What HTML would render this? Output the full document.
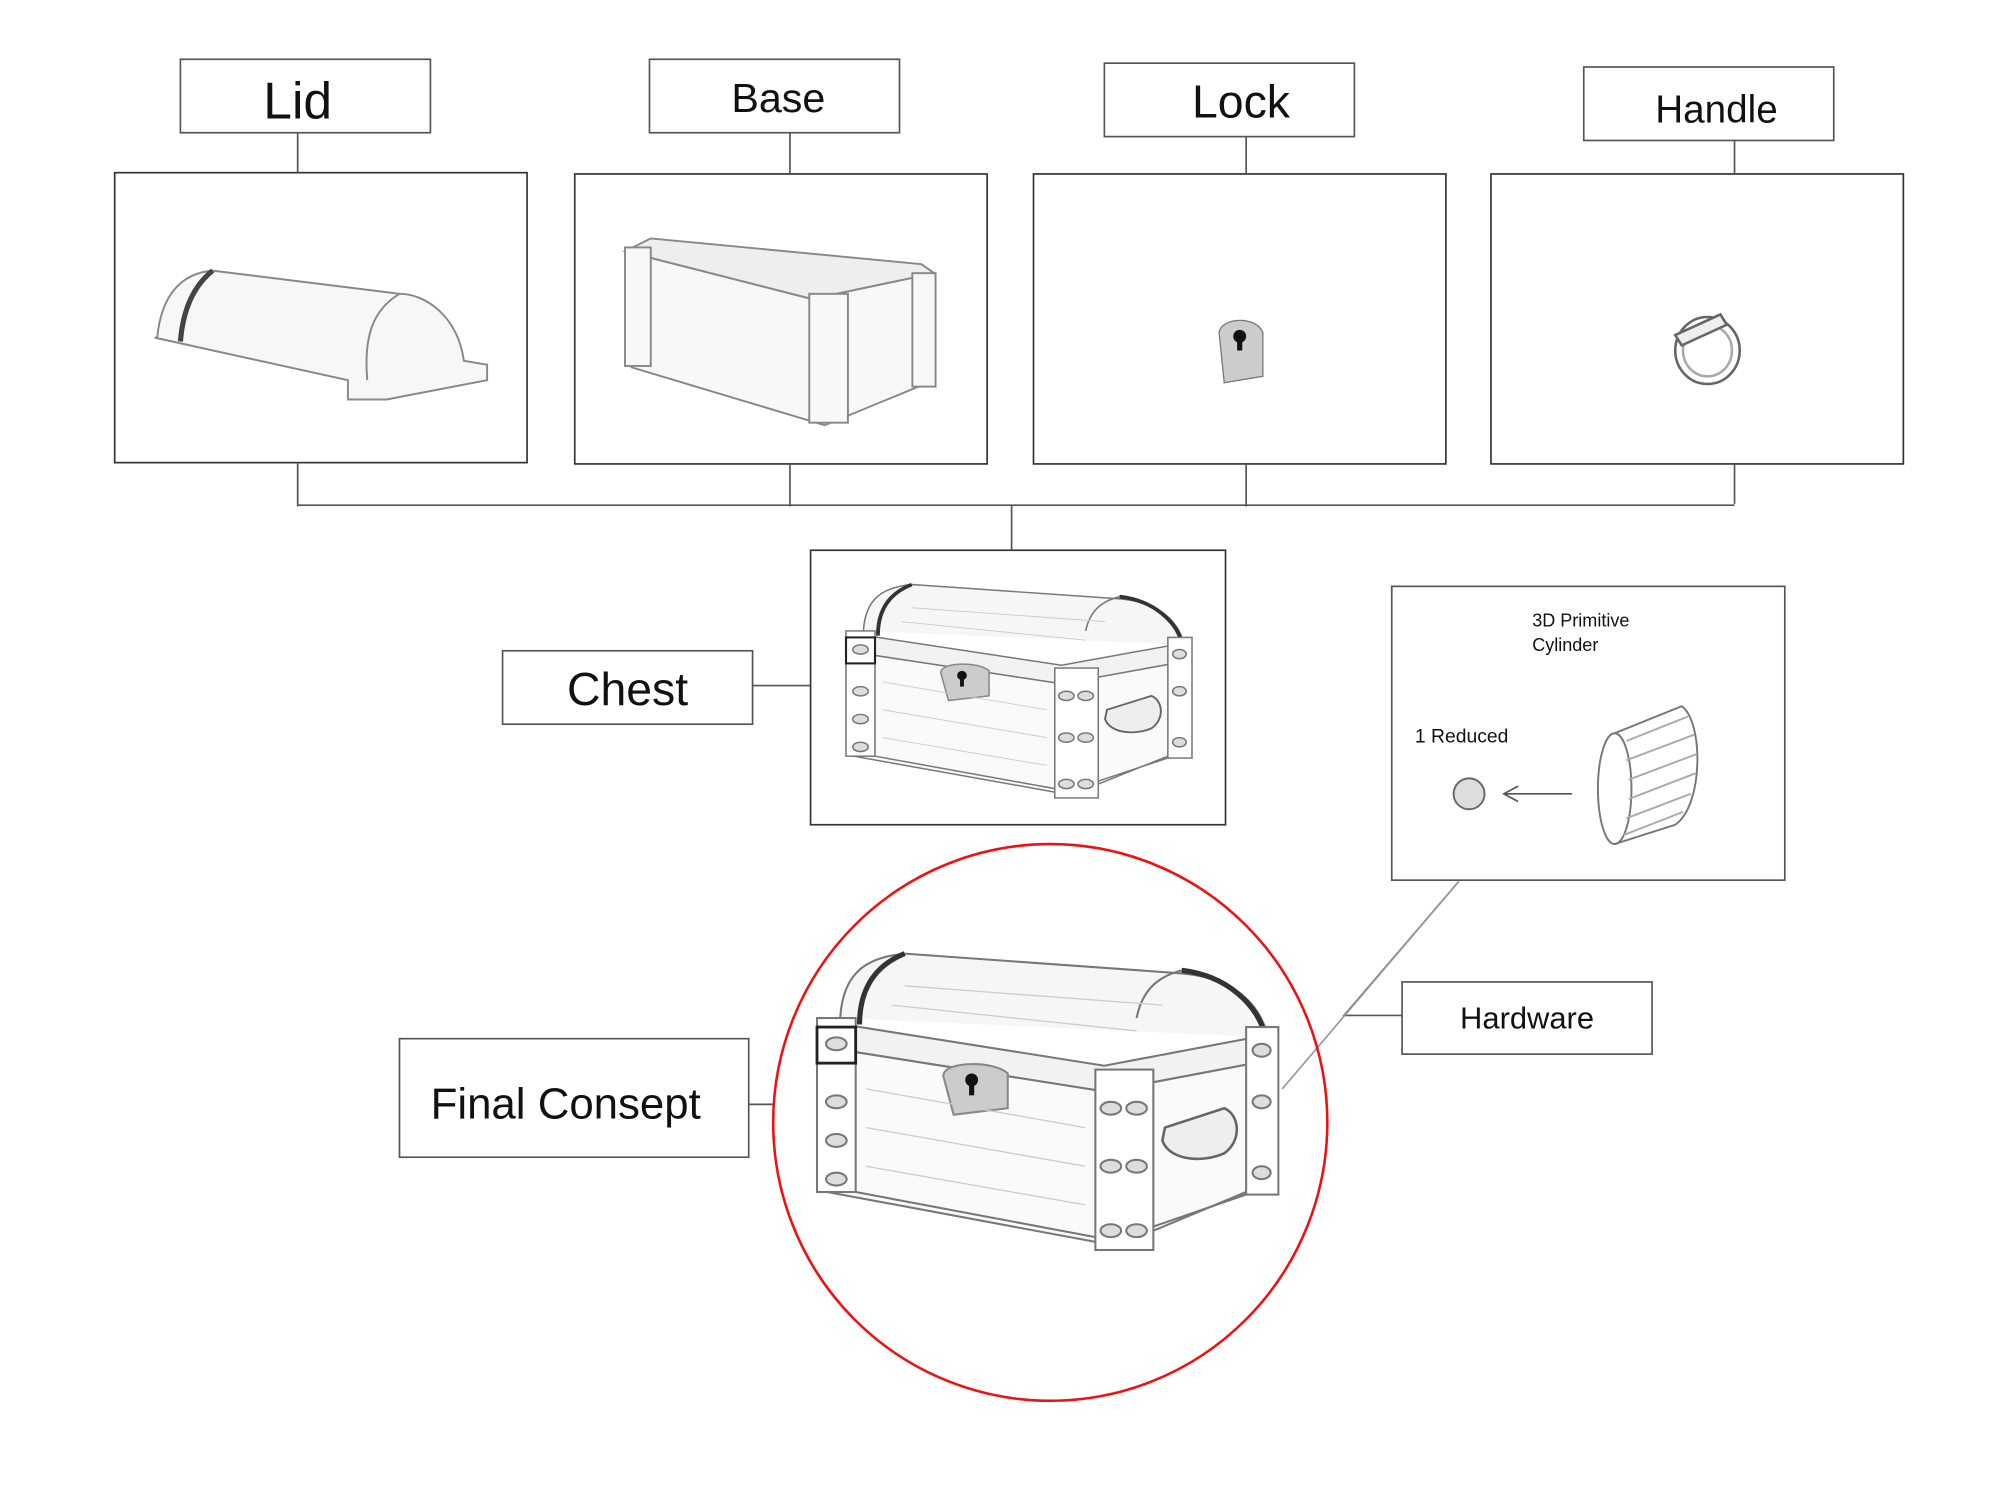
<!DOCTYPE html>
<html><head><meta charset="utf-8"><style>
html,body{margin:0;padding:0;background:#fff;}
svg{display:block}
text{font-family:"Liberation Sans",sans-serif;fill:#111}
</style></head><body>
<svg width="2000" height="1500" viewBox="0 0 1552 1164" xmlns="http://www.w3.org/2000/svg">
<defs>
<g id="chest" fill="none" stroke="#777" stroke-width="1.6">
  <!-- lid top -->
  <path d="M20,55 C22,20 40,8 70,5 L280,20 C320,22 345,40 352,70" fill="#f6f6f6"/>
  <path d="M70,5 C45,15 35,35 35,60" stroke="#333" stroke-width="4"/>
  <path d="M285,18 C320,22 345,45 350,70" stroke="#333" stroke-width="4"/>
  <path d="M250,55 C255,30 270,22 285,18"/>
  <!-- lid band -->
  <path d="M10,58 L225,92 L352,68 L352,88 L225,112 L10,78 Z" fill="#f2f2f2"/>
  <!-- front face -->
  <path d="M10,78 L225,112 L225,230 L10,190 Z" fill="#fafafa"/>
  <!-- side face -->
  <path d="M225,112 L352,88 L355,185 L225,230 Z" fill="#fafafa"/>
  <!-- posts -->
  <rect x="2" y="55" width="30" height="135" fill="#fff"/>
  <rect x="218" y="95" width="45" height="140" fill="#fff"/>
  <rect x="335" y="62" width="25" height="130" fill="#fff"/>
  <rect x="2" y="62" width="30" height="28" stroke="#222" stroke-width="2.2"/>
  <line x1="32" y1="190" x2="218" y2="225"/>
  <line x1="263" y1="220" x2="335" y2="190"/>
  <!-- studs -->
  <g fill="#ddd">
  <ellipse cx="17" cy="75" rx="8" ry="5"/><ellipse cx="17" cy="120" rx="8" ry="5"/><ellipse cx="17" cy="150" rx="8" ry="5"/><ellipse cx="17" cy="180" rx="8" ry="5"/>
  <ellipse cx="230" cy="125" rx="8" ry="5"/><ellipse cx="250" cy="125" rx="8" ry="5"/><ellipse cx="230" cy="170" rx="8" ry="5"/><ellipse cx="250" cy="170" rx="8" ry="5"/><ellipse cx="230" cy="220" rx="8" ry="5"/><ellipse cx="250" cy="220" rx="8" ry="5"/>
  <ellipse cx="347" cy="80" rx="7" ry="5"/><ellipse cx="347" cy="120" rx="7" ry="5"/><ellipse cx="347" cy="175" rx="7" ry="5"/>
  </g>
  <!-- lock -->
  <path d="M100,100 C100,88 140,88 150,98 L150,125 L108,130 Z" fill="#ccc" stroke="#888"/>
  <circle cx="122" cy="103" r="5" fill="#111" stroke="none"/><rect x="120" y="103" width="4" height="12" fill="#111" stroke="none"/>
  <!-- handle -->
  <path d="M272,140 L318,125 C330,130 332,150 318,160 C300,168 275,165 270,150 Z" fill="#eee" stroke="#666" stroke-width="2"/>
  <!-- wood lines -->
  <g stroke="#ccc" stroke-width="1"><line x1="40" y1="110" x2="210" y2="140"/><line x1="40" y1="140" x2="210" y2="170"/><line x1="40" y1="170" x2="210" y2="200"/><line x1="70" y1="30" x2="270" y2="45"/><line x1="60" y1="45" x2="250" y2="65"/></g>
</g>
</defs>
<rect width="1552" height="1164" fill="#fff"/>
<g fill="none" stroke="#555" stroke-width="1.3">
  <rect x="140" y="46" width="194" height="57"/>
  <rect x="504" y="46" width="194" height="57"/>
  <rect x="857" y="49" width="194" height="57"/>
  <rect x="1229" y="52" width="194" height="57"/>
  <rect x="89" y="134" width="320" height="225" stroke="#333"/>
  <rect x="446" y="135" width="320" height="225" stroke="#333"/>
  <rect x="802" y="135" width="320" height="225" stroke="#333"/>
  <rect x="1157" y="135" width="320" height="225" stroke="#333"/>
  <path d="M231,103V134M613,103V135M967,106V135M1346,109V135"/>
  <path d="M231,359V393M613,360V393M967,360V393M1346,360V391M231,392H1346M785,392V427"/>
  <rect x="629" y="427" width="322" height="213" stroke="#333"/>
  <rect x="390" y="505" width="194" height="57"/>
  <path d="M584,532H629"/>
  <rect x="1080" y="455" width="305" height="228"/>
  <rect x="1088" y="762" width="194" height="56"/>
  <rect x="310" y="806" width="271" height="92"/>
  <path d="M581,857H600"/>
  <path d="M1132,684L1043,788H1088"/>
  <path d="M1132,684L995,845" stroke="#999"/>
  <path d="M1220,616H1168M1178,610L1167,616L1178,622"/>
</g>
<text x="231" y="92" font-size="40" text-anchor="middle">Lid</text>
<text x="604" y="87" font-size="32" text-anchor="middle">Base</text>
<text x="963" y="91" font-size="36" text-anchor="middle">Lock</text>
<text x="1332" y="95" font-size="30" text-anchor="middle">Handle</text>
<text x="487" y="547" font-size="36" text-anchor="middle">Chest</text>
<text x="439" y="868" font-size="34" text-anchor="middle">Final Consept</text>
<text x="1185" y="798" font-size="24" text-anchor="middle">Hardware</text>
<text x="1189" y="486" font-size="14">3D Primitive</text>
<text x="1189" y="505" font-size="14">Cylinder</text>
<text x="1098" y="576" font-size="15">1 Reduced</text>
<!-- lid sketch -->
<g fill="#f7f7f7" stroke="#888" stroke-width="1.5">
  <path d="M120,262 L270,295 L270,310 L300,310 L378,295 L378,283 L360,280 C355,245 330,228 310,228 L165,210 C140,212 125,230 122,262 Z"/>
  <path d="M165,210 C150,222 142,240 140,265" stroke="#444" stroke-width="4" fill="none"/>
  <path d="M310,228 C290,240 282,260 285,295" fill="none"/>
</g>
<!-- base sketch -->
<g fill="#f8f8f8" stroke="#888" stroke-width="1.5">
  <path d="M485,195 L630,232 L725,212 L725,295 L640,330 L490,285 Z"/>
  <path d="M505,185 L715,205 L725,212 L630,232 L485,195 Z" fill="#eee"/>
  <rect x="485" y="192" width="20" height="92"/><rect x="628" y="228" width="30" height="100"/><rect x="708" y="212" width="18" height="88"/>
</g>
<!-- lock sketch -->
<path d="M946,258 C948,246 975,245 980,258 L980,292 L950,297 Z" fill="#ccc" stroke="#777"/>
<circle cx="962" cy="261" r="5" fill="#111"/><rect x="960" y="261" width="4" height="11" fill="#111"/>
<!-- handle sketch -->
<g fill="none" stroke="#666" stroke-width="2">
<ellipse cx="1325" cy="272" rx="25" ry="26"/><ellipse cx="1325" cy="272" rx="19" ry="20" stroke="#aaa"/>
<path d="M1300,260 L1335,244 L1340,252 L1305,268 Z" fill="#eee"/>
</g>
<!-- primitives -->
<circle cx="1140" cy="616" r="12" fill="#ddd" stroke="#666" stroke-width="1.5"/>
<g fill="none" stroke="#777" stroke-width="1.5">
<ellipse cx="1253" cy="612" rx="13" ry="43"/>
<path d="M1253,569 L1305,548 C1322,560 1322,625 1300,640 L1253,655"/>
<path d="M1262,575L1310,556M1262,590L1315,570M1264,605L1317,585M1264,620L1316,600M1262,635L1312,616M1260,648L1306,630" stroke="#aaa"/>
</g>
<use href="#chest" transform="translate(655,450) scale(0.75,0.72)"/>
<use href="#chest" transform="translate(632,735)"/>
<ellipse cx="815" cy="871" rx="215" ry="216" fill="none" stroke="#e11" stroke-width="2"/>
</svg>
</body></html>
